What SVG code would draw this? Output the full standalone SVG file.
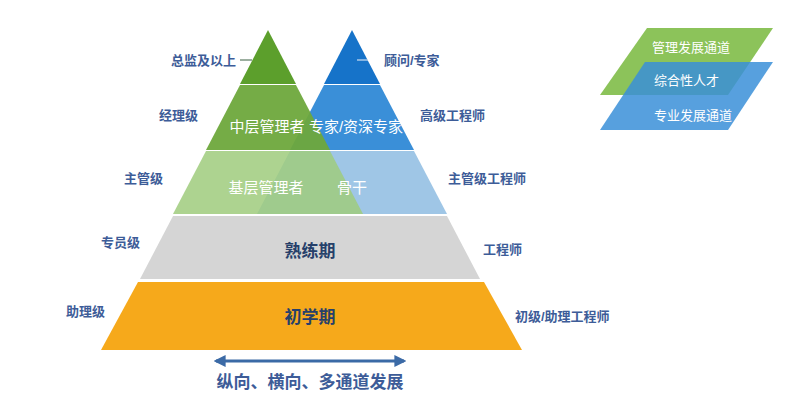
<svg xmlns="http://www.w3.org/2000/svg" width="802" height="400" viewBox="0 0 802 400">
<defs>
<style>
.lbl{font-family:"Liberation Sans","Noto Sans CJK SC",sans-serif;font-size:13px;font-weight:bold;fill:#3d5c98}
.in{font-family:"Liberation Sans","Noto Sans CJK SC",sans-serif;font-size:15px;fill:#fff}
.big{font-family:"Liberation Sans","Noto Sans CJK SC",sans-serif;font-size:17px;font-weight:bold;fill:#26406a}
.leg{font-family:"Liberation Sans","Noto Sans CJK SC",sans-serif;font-size:13px;fill:#fff}
</style>
<marker id="ah" viewBox="0 0 10 10" refX="8" refY="5" markerWidth="4" markerHeight="4" orient="auto-start-reverse"><path d="M0,0L10,5L0,10z" fill="#3b6aa6"/></marker>
</defs>
<rect width="802" height="400" fill="#fff"/>
<g id="blue-pyramid">
<polygon points="352,30 380,84 324,84" fill="#1673c9"/>
<polygon points="324,85 380,85 414,150 290,150" fill="#3a8fd8"/>
<polygon points="290,151 414,151 447,214 257,214" fill="#9fc6e6"/>
</g>
<g id="green-pyramid">
<polygon points="268,30 296,84 240,84" fill="#5c9f2c"/>
<polygon points="240,85 296,85 330,150 206,150" fill="#6ea83c" opacity="0.95"/>
<polygon points="206,151 330,151 363,214 173,214" fill="#9fcb7c" opacity="0.85"/>
</g>
<g id="tier-skilled">
<polygon points="173,216 447,216 480,279 140,279" fill="#d5d5d5"/>
<text class="big" x="310" y="257" text-anchor="middle">熟练期</text>
</g>
<g id="tier-beginner">
<polygon points="138,282 484,282 522,350 101,350" fill="#f6a91b"/>
<text class="big" x="310" y="323" text-anchor="middle">初学期</text>
</g>
<g id="inner-text">
<text class="in" x="267" y="132" text-anchor="middle">中层管理者</text>
<text class="in" x="356" y="132" text-anchor="middle">专家/资深专家</text>
<text class="in" x="266" y="193" text-anchor="middle">基层管理者</text>
<text class="in" x="352" y="193" text-anchor="middle">骨干</text>
</g>
<g id="labels">
<text class="lbl" x="236" y="65" text-anchor="end">总监及以上</text>
<text class="lbl" x="198" y="120" text-anchor="end">经理级</text>
<text class="lbl" x="163" y="183" text-anchor="end">主管级</text>
<text class="lbl" x="140" y="247" text-anchor="end">专员级</text>
<text class="lbl" x="105" y="316" text-anchor="end">助理级</text>
<text class="lbl" x="384" y="65">顾问/专家</text>
<text class="lbl" x="420" y="120">高级工程师</text>
<text class="lbl" x="448" y="183">主管级工程师</text>
<text class="lbl" x="483" y="254">工程师</text>
<text class="lbl" x="515" y="321">初级/助理工程师</text>
</g>
<g id="connectors">
<line x1="240" y1="60" x2="252" y2="60" stroke="#5a7a60" stroke-width="1.2"/>
<line x1="357" y1="60" x2="368" y2="60" stroke="#cfe0f2" stroke-width="1.2"/>
<line x1="216" y1="361" x2="404" y2="361" stroke="#3b6aa6" stroke-width="3" marker-start="url(#ah)" marker-end="url(#ah)"/>
</g>
<text class="big" x="310" y="388" text-anchor="middle" style="fill:#3d5c98">纵向、横向、多通道发展</text>
<g id="legend">
<polygon points="647,28 773,28 728,95 600,95" fill="#8cc35a"/>
<polygon points="645,62 773,62 728,130 600,130" fill="#3a8fd8" opacity="0.85"/>
<text class="leg" x="652" y="52">管理发展通道</text>
<text class="leg" x="654" y="85">综合性人才</text>
<text class="leg" x="654" y="120">专业发展通道</text>
</g>
</svg>
